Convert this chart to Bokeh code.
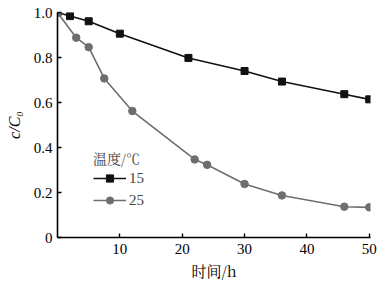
from bokeh.plotting import figure
from bokeh.models import Range1d, FixedTicker, Legend, LegendItem
from bokeh.embed import file_html
from bokeh.resources import INLINE

# data
t15 = [0, 2, 5, 10, 21, 30, 36, 46, 50]
c15 = [1.0, 0.984, 0.961, 0.906, 0.798, 0.740, 0.693, 0.637, 0.614]
t25 = [0, 3, 5, 7.5, 12, 22, 24, 30, 36, 46, 50]
c25 = [1.0, 0.888, 0.846, 0.707, 0.562, 0.347, 0.323, 0.238, 0.187, 0.137, 0.134]
x_ticks = [10, 20, 30, 40, 50]
y_ticks = [0, 0.2, 0.4, 0.6, 0.8, 1.0]
y_tick_labels = ["0", "0.2", "0.4", "0.6", "0.8", "1.0"]
legend_title = "温度/℃"
series_names = ["15", "25"]

p = figure(width=377, height=283, output_backend="svg", toolbar_location=None,
           x_range=Range1d(0, 50.2), y_range=Range1d(0, 1.0))
p.min_border_left = 57
p.min_border_right = 7
p.min_border_top = 12
p.min_border_bottom = 45
p.outline_line_color = None
p.xgrid.visible = False
p.ygrid.visible = False
p.background_fill_color = "white"

black = "#111111"
gray = "#6e6e6e"
l1 = p.line(t15, c15, line_color=black, line_width=1.6)
m1 = p.scatter(t15, c15, marker="square", size=7, fill_color=black, line_color=black)
l2 = p.line(t25, c25, line_color=gray, line_width=1.6)
m2 = p.scatter(t25, c25, marker="circle", size=7.5, fill_color=gray, line_color=gray)

serif = "'Liberation Serif', 'Times New Roman', serif"
cjk = "'Noto Serif CJK SC', 'Noto Sans CJK SC', serif"
for ax in (p.xaxis[0], p.yaxis[0]):
    ax.axis_line_color = "black"
    ax.axis_line_width = 1.6
    ax.major_tick_line_color = "black"
    ax.major_tick_line_width = 1.4
    ax.major_tick_in = 4
    ax.major_tick_out = 0
    ax.minor_tick_line_color = None
    ax.major_label_text_font = serif
    ax.major_label_text_font_size = "15px"
    ax.major_label_text_color = "black"
    ax.axis_label_text_color = "black"

p.xaxis.ticker = FixedTicker(ticks=x_ticks)
p.yaxis.ticker = FixedTicker(ticks=y_ticks)
p.yaxis.major_label_overrides = {v: s for v, s in zip(y_ticks, y_tick_labels)}
p.xaxis.major_label_standoff = 6
p.yaxis.major_label_standoff = 5

p.xaxis.axis_label = "时间/h"
p.xaxis.axis_label_text_font = cjk
p.xaxis.axis_label_text_font_size = "15px"
p.xaxis.axis_label_text_font_style = "normal"
p.xaxis.axis_label_standoff = 3

p.yaxis.axis_label = "c/C₀"
p.yaxis.axis_label_text_font = serif
p.yaxis.axis_label_text_font_size = "16px"
p.yaxis.axis_label_text_font_style = "italic"
p.yaxis.axis_label_standoff = 8

legend = Legend(items=[LegendItem(label=series_names[0], renderers=[l1, m1]),
                       LegendItem(label=series_names[1], renderers=[l2, m2])],
                location=(36, 28))
legend.title = legend_title
legend.title_text_font = cjk
legend.title_text_font_size = "14px"
legend.title_text_font_style = "normal"
legend.title_standoff = 1
legend.label_text_font = serif
legend.label_text_font_size = "15px"
legend.border_line_color = None
legend.background_fill_alpha = 0
legend.glyph_width = 33
legend.glyph_height = 18
legend.label_standoff = 3
legend.spacing = 4
legend.padding = 2
p.add_layout(legend)

open("out.html", "w").write(file_html(p, INLINE))
